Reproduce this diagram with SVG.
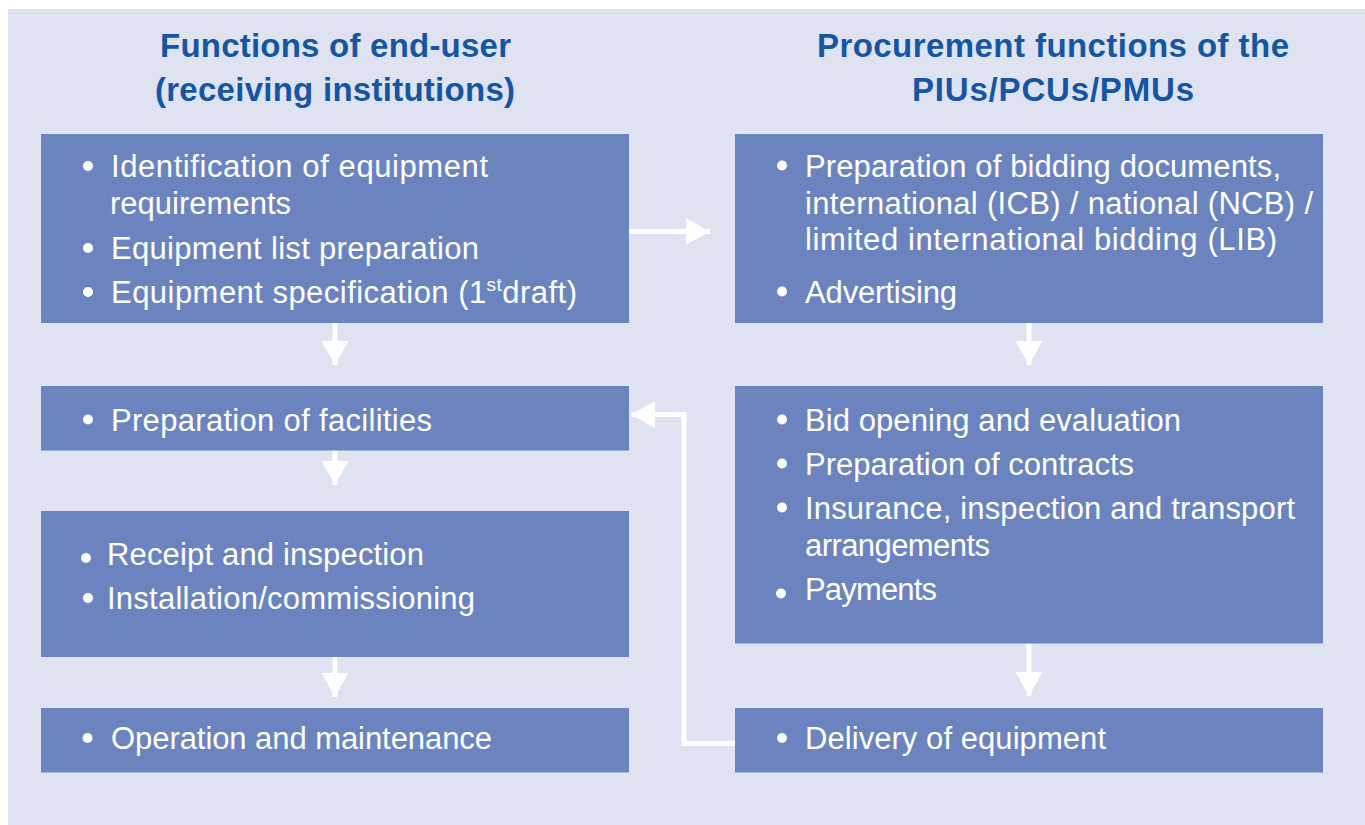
<svg xmlns="http://www.w3.org/2000/svg" width="1365" height="825" viewBox="0 0 1365 825">
<defs>
<style>
.bg{fill:#ffffff}
.panel{fill:#dfe2f1}
.box{fill:#6b84c0}
.title{font-family:"Liberation Sans",Arial,sans-serif;font-weight:bold;font-size:33px;fill:#1456a4;text-anchor:middle}
.t{font-family:"Liberation Sans",Arial,sans-serif;font-size:31px;fill:#ffffff}
.dot{fill:#ffffff}
.conn{stroke:#ffffff;stroke-width:5;fill:none}
</style>
<marker id="ah" viewBox="0 0 24 27" refX="24" refY="13.5" markerWidth="24" markerHeight="27" markerUnits="userSpaceOnUse" orient="auto">
<path d="M0,0 L24,13.5 L0,27 Z" fill="#ffffff"/>
</marker>
</defs>
<rect class="bg" x="0" y="0" width="1365" height="825"/>
<rect class="panel" x="8" y="9" width="1357" height="816"/>

<g id="titles">
<text class="title" x="335.5" y="57" textLength="351">Functions of end-user</text>
<text class="title" x="335" y="101" textLength="360">(receiving institutions)</text>
<text class="title" x="1053" y="57" textLength="472">Procurement functions of the</text>
<text class="title" x="1053" y="101" textLength="282">PIUs/PCUs/PMUs</text>
</g>

<g id="connectors">
<line class="conn" x1="335" y1="323" x2="335" y2="365" marker-end="url(#ah)"/>
<line class="conn" x1="335" y1="450" x2="335" y2="485" marker-end="url(#ah)"/>
<line class="conn" x1="335" y1="656" x2="335" y2="697" marker-end="url(#ah)"/>
<line class="conn" x1="1029" y1="323" x2="1029" y2="365" marker-end="url(#ah)"/>
<line class="conn" x1="1029" y1="643" x2="1029" y2="696" marker-end="url(#ah)"/>
<line class="conn" x1="629" y1="231.5" x2="710" y2="231.5" marker-end="url(#ah)"/>
<polyline class="conn" points="735,743.5 684,743.5 684,414.5 631,414.5" marker-end="url(#ah)"/>
</g>

<g id="node-identification">
<rect class="box" x="41" y="134" width="588" height="189"/>
<circle class="dot" cx="88" cy="166" r="5"/>
<text class="t" x="111" y="177" textLength="377">Identification of equipment</text>
<text class="t" x="110" y="214" textLength="181">requirements</text>
<circle class="dot" cx="88" cy="248" r="5"/>
<text class="t" x="111" y="259" textLength="368">Equipment list preparation</text>
<circle class="dot" cx="88" cy="292" r="5"/>
<text class="t" x="111" y="303" textLength="466">Equipment specification (1<tspan font-size="19" dy="-12">st</tspan><tspan dy="12">draft)</tspan></text>
</g>

<g id="node-facilities">
<rect class="box" x="41" y="386" width="588" height="64.5"/>
<circle class="dot" cx="88" cy="419.5" r="5"/>
<text class="t" x="111" y="431" textLength="321">Preparation of facilities</text>
</g>

<g id="node-receipt">
<rect class="box" x="41" y="511" width="588" height="146"/>
<circle class="dot" cx="86" cy="558" r="5"/>
<text class="t" x="107" y="565" textLength="317">Receipt and inspection</text>
<circle class="dot" cx="88" cy="598" r="5"/>
<text class="t" x="107" y="608.5" textLength="368">Installation/commissioning</text>
</g>

<g id="node-operation">
<rect class="box" x="41" y="708" width="588" height="64.5"/>
<circle class="dot" cx="87.5" cy="738" r="5"/>
<text class="t" x="111" y="749" textLength="381">Operation and maintenance</text>
</g>

<g id="node-bidding">
<rect class="box" x="735" y="134" width="588" height="189"/>
<circle class="dot" cx="782" cy="165.5" r="5"/>
<text class="t" x="805" y="177" textLength="476">Preparation of bidding documents,</text>
<text class="t" x="805" y="214" textLength="508">international (ICB) / national (NCB) /</text>
<text class="t" x="805" y="250" textLength="472">limited international bidding (LIB)</text>
<circle class="dot" cx="782" cy="291.5" r="5"/>
<text class="t" x="805" y="303" textLength="152">Advertising</text>
</g>

<g id="node-evaluation">
<rect class="box" x="735" y="386" width="588" height="257.5"/>
<circle class="dot" cx="782" cy="419.5" r="5"/>
<text class="t" x="805" y="431" textLength="376">Bid opening and evaluation</text>
<circle class="dot" cx="782" cy="463.5" r="5"/>
<text class="t" x="805" y="474.5" textLength="329">Preparation of contracts</text>
<circle class="dot" cx="782" cy="507.5" r="5"/>
<text class="t" x="805" y="519" textLength="490">Insurance, inspection and transport</text>
<text class="t" x="805" y="556" textLength="185">arrangements</text>
<circle class="dot" cx="781" cy="593.5" r="5"/>
<text class="t" x="805" y="600" textLength="132">Payments</text>
</g>

<g id="node-delivery">
<rect class="box" x="735" y="708" width="588" height="64.5"/>
<circle class="dot" cx="782" cy="738" r="5"/>
<text class="t" x="805" y="749" textLength="301">Delivery of equipment</text>
</g>
</svg>
